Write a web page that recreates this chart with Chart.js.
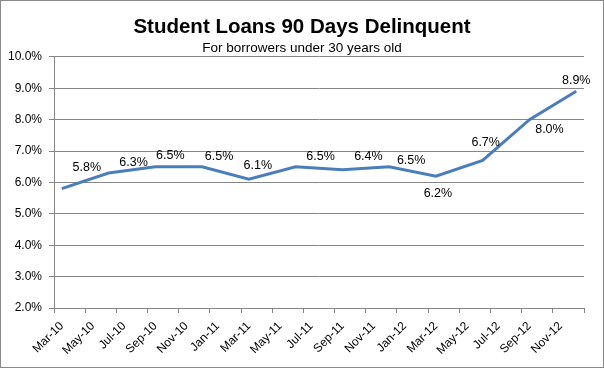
<!DOCTYPE html>
<html>
<head>
<meta charset="utf-8">
<script src="https://cdn.jsdelivr.net/npm/chart.js@4"></script>
<style>
  html, body { margin: 0; padding: 0; background: #fff; }
  #wrap { width: 604px; height: 368px; }
</style>
</head>
<body>
<div id="wrap"><canvas id="chart" width="604" height="368"></canvas></div>
<script>
// months on the axis, Mar-10 .. Dec-12 (one slot per month)
const months = ['Mar-10','Apr-10','May-10','Jun-10','Jul-10','Aug-10','Sep-10','Oct-10','Nov-10','Dec-10',
  'Jan-11','Feb-11','Mar-11','Apr-11','May-11','Jun-11','Jul-11','Aug-11','Sep-11','Oct-11','Nov-11','Dec-11',
  'Jan-12','Feb-12','Mar-12','Apr-12','May-12','Jun-12','Jul-12','Aug-12','Sep-12','Oct-12','Nov-12','Dec-12'];
// quarterly readings
const quarters = ['Mar-10','Jun-10','Sep-10','Dec-10','Mar-11','Jun-11','Sep-11','Dec-11','Mar-12','Jun-12','Sep-12','Dec-12'];
const delinquent = [5.8, 6.3, 6.5, 6.5, 6.1, 6.5, 6.4, 6.5, 6.2, 6.7, 8.0, 8.9];

// label nudges (px), roughly where they were dragged in the original
const labelOffsets = [[25,-21],[25,-10],[15,-11],[17,-10],[9,-14],[25,-10],[26,-13],[22,-6],[2,17],[3,-18],[20,10],[0,-11]];

const FONT = 'Liberation Sans, Arial, sans-serif';

const pointLabels = {
  id: 'pointLabels',
  afterDatasetsDraw(chart) {
    const ctx = chart.ctx;
    const meta = chart.getDatasetMeta(0);
    ctx.save();
    ctx.font = '12.5px ' + FONT;
    ctx.fillStyle = '#000';
    ctx.textAlign = 'center';
    ctx.textBaseline = 'middle';
    meta.data.forEach((pt, i) => {
      const off = labelOffsets[i] || [0, -12];
      ctx.fillText(delinquent[i].toFixed(1) + '%', pt.x + off[0], pt.y + off[1]);
    });
    ctx.restore();
  }
};

const frame = {
  id: 'frame',
  afterDraw(chart) {
    const ctx = chart.ctx;
    ctx.save();
    ctx.strokeStyle = '#8a8a8a';
    ctx.lineWidth = 1;
    ctx.strokeRect(0.5, 0.5, chart.width - 1, chart.height - 1);
    ctx.restore();
  }
};

const tickVisible = c => (c.index === undefined || c.index % 2 === 0) ? '#868686' : 'rgba(0,0,0,0)';

new Chart(document.getElementById('chart'), {
  type: 'line',
  data: {
    labels: months,
    datasets: [{
      data: quarters.map((q, i) => ({ x: q, y: delinquent[i] })),
      borderColor: '#4a7ebb',
      borderWidth: 3,
      pointRadius: 0,
      tension: 0,
      fill: false
    }]
  },
  options: {
    responsive: false,
    animation: false,
    layout: { padding: 0 },
    plugins: {
      legend: { display: false },
      tooltip: { enabled: false },
      title: {
        display: true,
        text: 'Student Loans 90 Days Delinquent',
        color: '#000',
        font: { family: FONT, size: 20.5, weight: 'bold' },
        padding: { top: 15, bottom: 0 }
      },
      subtitle: {
        display: true,
        text: 'For borrowers under 30 years old',
        color: '#000',
        font: { family: FONT, size: 13.5 },
        padding: { top: 1, bottom: 0 }
      }
    },
    scales: {
      x: {
        type: 'category',
        offset: true,
        grid: {
          offset: true,
          drawOnChartArea: false,
          tickLength: 5,
          tickColor: tickVisible
        },
        border: { color: '#868686' },
        ticks: {
          autoSkip: false,
          maxRotation: 45,
          minRotation: 45,
          color: '#000',
          padding: 6,
          font: { family: FONT, size: 12 },
          callback: (v, i) => (i % 2 === 0 ? months[i] : '')
        },
        afterFit: s => { s.height = 60; }
      },
      y: {
        min: 2,
        max: 10,
        grid: { color: '#868686', tickLength: 5 },
        border: { color: '#868686' },
        ticks: {
          stepSize: 1,
          color: '#000',
          padding: 7,
          font: { family: FONT, size: 12 },
          callback: v => v.toFixed(1) + '%'
        },
        afterFit: s => { s.width = 54; }
      },
      // empty strip on the right so the titles stay centred on the whole page
      pad: {
        position: 'right',
        display: true,
        grid: { display: false },
        border: { display: false },
        ticks: { display: false },
        afterFit: s => { s.width = 20; }
      }
    }
  },
  plugins: [pointLabels, frame]
});
</script>
</body>
</html>
